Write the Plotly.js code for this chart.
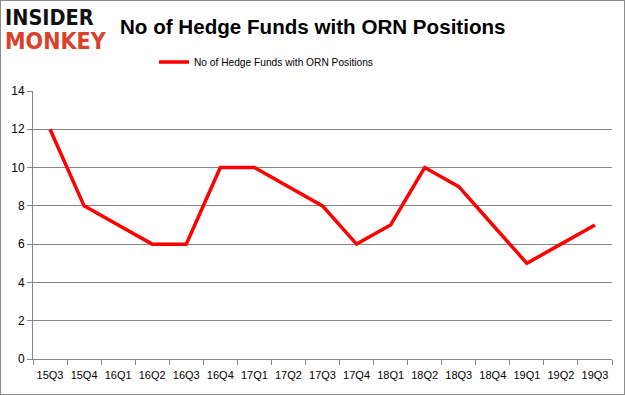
<!DOCTYPE html>
<html>
<head>
<meta charset="utf-8">
<script src="https://cdn.plot.ly/plotly-3.0.1.min.js"></script>
<style>
html,body{margin:0;padding:0;background:#fff;}
#wrap{position:relative;width:625px;height:395px;}
#chart{position:absolute;left:0;top:0;width:625px;height:395px;}
#frame{position:absolute;left:0;top:0;width:625px;height:395px;box-sizing:border-box;border:1px solid #8c8c8c;pointer-events:none;}
</style>
</head>
<body>
<div id="wrap"><div id="chart"></div><div id="frame"></div></div>
<script>
const quarters = ["15Q3","15Q4","16Q1","16Q2","16Q3","16Q4","17Q1","17Q2","17Q3","17Q4","18Q1","18Q2","18Q3","18Q4","19Q1","19Q2","19Q3"];
const hedgeFunds = [12,8,7,6,6,10,10,9,8,6,7,10,9,7,5,6,7];
const seriesName = "No of Hedge Funds with ORN Positions";
const yTicks = [0,2,4,6,8,10,12,14];

const trace = {
  x: quarters, y: hedgeFunds, type: "scatter", mode: "lines",
  name: seriesName,
  line: {color: "#ff0000", width: 3.5}
};
const axisFont = {family: "Liberation Sans, Arial, sans-serif", size: 11, color: "#000"};
const layout = {
  width: 625, height: 395,
  margin: {l: 33, r: 13, t: 91, b: 36},
  paper_bgcolor: "#fff", plot_bgcolor: "#fff",
  showlegend: true,
  legend: {orientation: "h", x: 154/625, xanchor: "left", y: 1 - 62/395, yanchor: "middle",
    xref: "container", yref: "container", itemwidth: 30,
    font: {family: "Liberation Sans, Arial, sans-serif", size: 10.2, color: "#000"}},
  title: {text: "No of Hedge Funds with ORN Positions", x: 120/625, xanchor: "left", y: 1-27/395, yanchor: "middle",
    font: {family: "Liberation Sans, Arial, sans-serif", size: 20.6, color: "#000", weight: "bold"}},
  xaxis: {type: "category", range: [-0.5, quarters.length - 0.5], tickson: "boundaries", ticks: "outside", ticklen: 5, tickcolor: "#868686",
    tickangle: 0, ticklabelstandoff: 6, showline: true, linecolor: "#868686", linewidth: 1, showgrid: false, tickfont: axisFont, fixedrange: true},
  yaxis: {range: [0, 14], tickvals: yTicks, ticks: "outside", ticklen: 5, tickcolor: "#868686",
    showline: true, linecolor: "#868686", gridcolor: "#868686", gridwidth: 1, zeroline: false,
    tickfont: {family: "Liberation Sans, Arial, sans-serif", size: 12, color: "#000"}, fixedrange: true},
  annotations: [
    {text: "<b>INSIDER</b>", xref: "paper", yref: "paper", x: -29/579, y: 1 + (91-17)/268, xanchor: "left", yanchor: "middle",
      showarrow: false, borderpad: 0, font: {family: "DejaVu Sans Condensed, DejaVu Sans, sans-serif", size: 21.5, color: "#111"}},
    {text: "<b>MONKEY</b>", xref: "paper", yref: "paper", x: -29/579, y: 1 + (91-41)/268, xanchor: "left", yanchor: "middle",
      showarrow: false, borderpad: 0, font: {family: "DejaVu Sans Condensed, DejaVu Sans, sans-serif", size: 23, color: "#d9412b"}}
  ]
};
Plotly.newPlot("chart", [trace], layout, {displayModeBar: false, staticPlot: true});
</script>
</body>
</html>
